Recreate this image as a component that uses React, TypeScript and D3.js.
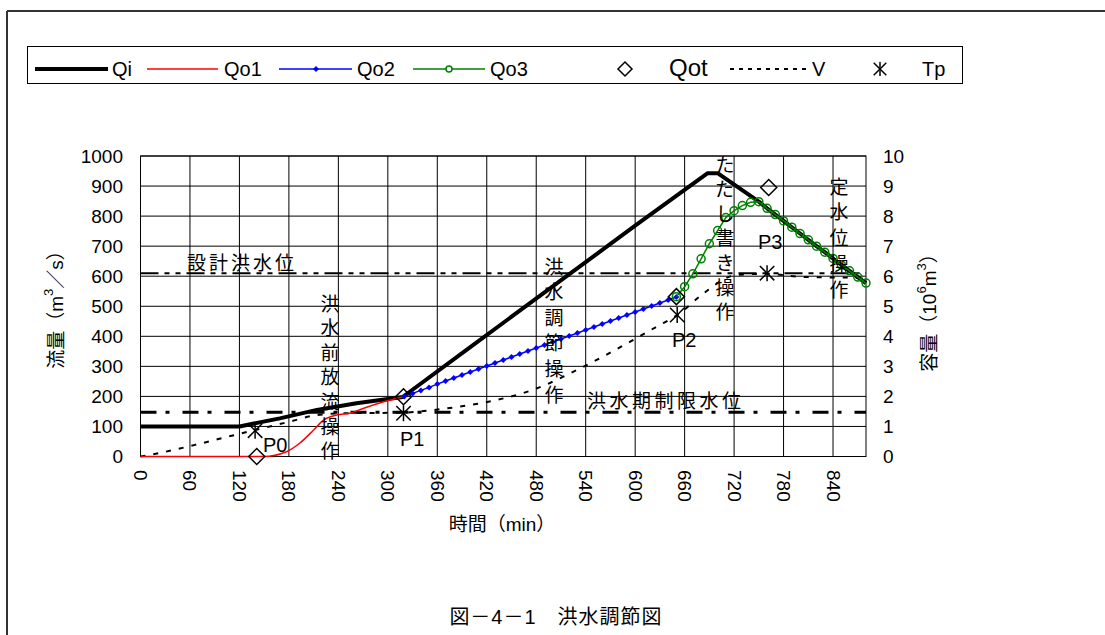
import React from "react";
import * as d3 from "d3";

// Time axis (min) and flow/volume ticks
const timeTicks = [0, 60, 120, 180, 240, 300, 360, 420, 480, 540, 600, 660, 720, 780, 840];
const flowTicks = [0, 100, 200, 300, 400, 500, 600, 700, 800, 900, 1000];
const volTicks = [0, 1, 2, 3, 4, 5, 6, 7, 8, 9, 10];

// Inflow Qi
const qiTime = [0, 120, 169, 214, 262, 318, 400, 500, 600, 688, 700, 750, 760, 770, 780, 790, 800, 810, 820, 830, 840, 850, 860, 870, 880];
const qiFlow = [100, 100, 127, 155, 177, 198, 364, 566, 768, 943, 943, 848, 826, 805, 784, 763, 742, 721, 700, 680, 659, 638, 618, 597, 577];

// Outflow Qo1 (pre-release)
const qo1Time = [0, 149, 177, 193, 210, 222, 238, 254, 270, 295, 320];
const qo1Flow = [0, 0, 16, 44, 88, 121, 138, 144, 160, 182, 200];

// Outflow Qo2 (flood control)
const qo2Time = [320, 330, 340, 350, 360, 370, 380, 390, 400, 410, 420, 430, 440, 450, 460, 470, 480, 490, 500, 510, 520, 530, 540, 550, 560, 570, 580, 590, 600, 610, 620, 630, 640, 650];
const qo2Flow = [200, 210, 220, 230, 241, 251, 261, 271, 281, 291, 301, 311, 321, 331, 341, 351, 361, 371, 381, 391, 401, 411, 421, 431, 441, 451, 461, 471, 481, 491, 501, 511, 521, 531];

// Outflow Qo3 (proviso / constant-level operation)
const qo3Time = [650, 660, 670, 680, 690, 700, 710, 720, 730, 740, 750, 760, 770, 780, 790, 800, 810, 820, 830, 840, 850, 860, 870, 880];
const qo3Flow = [532, 565, 608, 658, 708, 752, 795, 818, 835, 846, 848, 826, 805, 784, 763, 742, 721, 700, 680, 659, 638, 618, 597, 577];

// Storage volume V (10^6 m3)
const vTime = [0, 20, 74, 109, 139, 181, 214, 250, 320, 335, 371, 412, 481, 533, 594, 626, 654, 683, 723, 760, 800, 880];
const vVol = [0, 0.1, 0.44, 0.68, 0.88, 1.16, 1.38, 1.44, 1.46, 1.49, 1.6, 1.77, 2.27, 2.93, 3.82, 4.32, 4.76, 5.43, 6.04, 6.08, 5.98, 5.95];

// Qot markers and Tp points
const qotTime = [141, 319, 650, 762];
const qotFlow = [0, 199, 532, 895];
const tpTime = [139, 319, 651, 760];
const tpVol = [0.86, 1.44, 4.71, 6.1];
const pointNames = ["P0", "P1", "P2", "P3"];

// Reference water levels (volume)
const designLevel = 6.1;
const seasonLevel = 1.47;

const FONT = "'Liberation Sans', 'Noto Sans CJK JP', sans-serif";

const x = d3.scaleLinear().domain([0, 880]).range([140.5, 866]);
const yL = d3.scaleLinear().domain([0, 1000]).range([456.5, 156]);
const yR = d3.scaleLinear().domain([0, 10]).range([456.5, 156]);

const zip = (a: number[], b: number[]) => a.map((t, i) => [t, b[i]] as [number, number]);

const flowLine = d3.line<[number, number]>().x(d => x(d[0])).y(d => yL(d[1]));
const flowCurve = d3.line<[number, number]>().x(d => x(d[0])).y(d => yL(d[1])).curve(d3.curveMonotoneX);
const volCurve = d3.line<[number, number]>().x(d => x(d[0])).y(d => yR(d[1])).curve(d3.curveMonotoneX);

const diamond = (cx: number, cy: number, r: number) =>
  `M${cx},${cy - r}L${cx + r},${cy}L${cx},${cy + r}L${cx - r},${cy}Z`;

const Star = ({ cx, cy, s }: { cx: number; cy: number; s: number }) => (
  <g stroke="#000" strokeWidth={1.5}>
    <line x1={cx - s * 0.9} y1={cy - s * 0.9} x2={cx + s * 0.9} y2={cy + s * 0.9} />
    <line x1={cx - s * 0.9} y1={cy + s * 0.9} x2={cx + s * 0.9} y2={cy - s * 0.9} />
    <line x1={cx} y1={cy - s} x2={cx} y2={cy + s} />
  </g>
);

const VerticalLabel = ({ text, cx, top, step }: { text: string; cx: number; top: number; step: number }) => (
  <g>
    {Array.from(text).map((ch, i) => (
      <text key={i} x={cx} y={top + i * step} textAnchor="middle" dominantBaseline="central" fontSize={19} fill="#000">
        {ch}
      </text>
    ))}
  </g>
);

export default function App() {
  const qi = zip(qiTime, qiFlow);
  const qo1 = zip(qo1Time, qo1Flow);
  const qo2 = zip(qo2Time, qo2Flow);
  const qo3 = zip(qo3Time, qo3Flow);
  const vol = zip(vTime, vVol);
  const x0 = x(0);
  const x1 = x(880);

  return (
    <svg width={1105} height={635} style={{ position: "absolute", left: 0, top: 0, background: "#fff" }} fontFamily={FONT}>
      {/* outer frame */}
      <line x1={7} y1={11} x2={1105} y2={11} stroke="#333" strokeWidth={2} />
      <line x1={7} y1={11} x2={7} y2={635} stroke="#333" strokeWidth={2} />

      {/* legend */}
      <rect x={27.5} y={46.5} width={935} height={37} fill="#fff" stroke="#000" strokeWidth={1} />
      <g fontSize={20} dominantBaseline="central">
        <line x1={35} y1={69} x2={108} y2={69} stroke="#000" strokeWidth={4} />
        <text x={112} y={69}>Qi</text>
        <line x1={147} y1={69} x2={218} y2={69} stroke="#ff0000" strokeWidth={1.5} />
        <text x={224} y={69}>Qo1</text>
        <line x1={279} y1={69} x2={352} y2={69} stroke="#0000ff" strokeWidth={1.5} />
        <path d={diamond(316, 69, 3)} fill="#0000ff" />
        <text x={357} y={69}>Qo2</text>
        <line x1={413} y1={69} x2={485} y2={69} stroke="#008000" strokeWidth={1.5} />
        <circle cx={449} cy={69} r={3} fill="#fff" stroke="#008000" strokeWidth={1.5} />
        <text x={490} y={69}>Qo3</text>
        <path d={diamond(625, 69, 7)} fill="none" stroke="#000" strokeWidth={1.5} />
        <text x={669} y={67} fontSize={24}>Qot</text>
        <line x1={730} y1={69} x2={809} y2={69} stroke="#000" strokeWidth={2} strokeDasharray="4 5" />
        <text x={812} y={69}>V</text>
        <Star cx={880} cy={69} s={7} />
        <text x={922} y={69}>Tp</text>
      </g>

      {/* grid */}
      <g stroke="#000" strokeWidth={1}>
        {timeTicks.map(t => (
          <line key={"v" + t} x1={x(t)} y1={yL(0)} x2={x(t)} y2={yL(1000)} />
        ))}
        {flowTicks.map(f => (
          <line key={"h" + f} x1={x0} y1={yL(f)} x2={x1} y2={yL(f)} />
        ))}
        <rect x={x0} y={yL(1000)} width={x1 - x0} height={yL(0) - yL(1000)} fill="none" />
      </g>

      {/* reference water levels */}
      <line x1={x0} y1={yR(designLevel)} x2={x1} y2={yR(designLevel)} stroke="#000" strokeWidth={2} strokeDasharray="18 6 5 6 5 6" />
      <line x1={x0} y1={yR(seasonLevel)} x2={x1} y2={yR(seasonLevel)} stroke="#000" strokeWidth={3} strokeDasharray="16 9 4 13" />
      <text x={187} y={yR(designLevel) - 3} fontSize={19} letterSpacing={3}>設計洪水位</text>
      <text x={587} y={yR(seasonLevel) - 4} fontSize={19} letterSpacing={3.5}>洪水期制限水位</text>

      {/* volume */}
      <path d={volCurve(vol) ?? ""} fill="none" stroke="#000" strokeWidth={2} strokeDasharray="5 8" />

      {/* flows */}
      <path d={flowLine(qi) ?? ""} fill="none" stroke="#000" strokeWidth={4} strokeLinejoin="round" />
      <path d={flowCurve(qo1) ?? ""} fill="none" stroke="#ff0000" strokeWidth={1.5} />
      <path d={flowLine(qo2) ?? ""} fill="none" stroke="#0000ff" strokeWidth={1.5} />
      {qo2.map((d, i) => (
        <path key={"q2" + i} d={diamond(x(d[0]), yL(d[1]), 3)} fill="#0000ff" />
      ))}
      <path d={flowLine(qo3) ?? ""} fill="none" stroke="#008000" strokeWidth={1.5} />
      {qo3.map((d, i) => (
        <circle key={"q3" + i} cx={x(d[0])} cy={yL(d[1])} r={4} fill="none" stroke="#008000" strokeWidth={1.5} />
      ))}

      {/* Qot and Tp */}
      {qotTime.map((t, i) => (
        <path key={"qot" + i} d={diamond(x(t), yL(qotFlow[i]), 8)} fill="none" stroke="#000" strokeWidth={1.5} />
      ))}
      {tpTime.map((t, i) => (
        <Star key={"tp" + i} cx={x(t)} cy={yR(tpVol[i])} s={8} />
      ))}

      {/* point names */}
      <g fontSize={20} dominantBaseline="central">
        <text x={263} y={445}>{pointNames[0]}</text>
        <text x={400} y={439}>{pointNames[1]}</text>
        <text x={672} y={340}>{pointNames[2]}</text>
        <text x={758} y={242}>{pointNames[3]}</text>
      </g>

      {/* operation labels */}
      <VerticalLabel text="洪水前放流操作" cx={330} top={304} step={24.6} />
      <VerticalLabel text="洪水調節操作" cx={554} top={267} step={25.6} />
      <VerticalLabel text="ただし書き操作" cx={725} top={165} step={24.6} />
      <VerticalLabel text="定水位操作" cx={839} top={187} step={25.8} />

      {/* left axis */}
      <g fontSize={19} textAnchor="end" dominantBaseline="central">
        {flowTicks.map(f => (
          <text key={"lt" + f} x={123} y={yL(f)}>{f}</text>
        ))}
      </g>
      {/* right axis */}
      <g fontSize={19} textAnchor="start" dominantBaseline="central">
        {volTicks.map(v => (
          <text key={"rt" + v} x={883} y={yR(v)}>{v}</text>
        ))}
      </g>
      {/* bottom axis */}
      <g fontSize={19} textAnchor="start" dominantBaseline="central">
        {timeTicks.map(t => (
          <text key={"bt" + t} transform={`translate(${x(t)},470) rotate(90)`}>{t}</text>
        ))}
      </g>

      {/* axis titles */}
      <text transform="translate(56,305) rotate(-90)" textAnchor="middle" dominantBaseline="central" fontSize={19}>
        流量（m<tspan fontSize={13} dy={-8}>3</tspan><tspan dy={8}>／s）</tspan>
      </text>
      <text transform="translate(929,308) rotate(-90)" textAnchor="middle" dominantBaseline="central" fontSize={19}>
        容量（10<tspan fontSize={13} dy={-8}>6</tspan><tspan dy={8}>m</tspan><tspan fontSize={13} dy={-8}>3</tspan><tspan dy={8}>）</tspan>
      </text>
      <text x={502} y={524} textAnchor="middle" dominantBaseline="central" fontSize={19}>時間（min）</text>

      {/* caption */}
      <text x={556} y={617} textAnchor="middle" dominantBaseline="central" fontSize={20} letterSpacing={1}>図－4－1　洪水調節図</text>
    </svg>
  );
}
